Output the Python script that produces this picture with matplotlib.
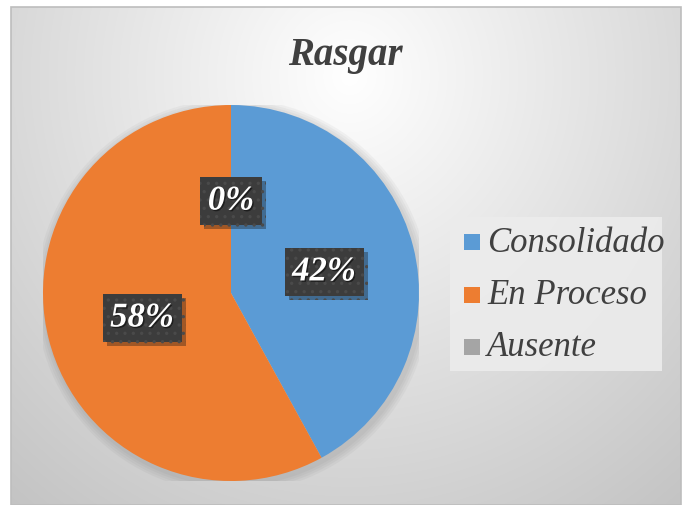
import numpy as np
import matplotlib
matplotlib.use("Agg")
import matplotlib.pyplot as plt
import matplotlib.patheffects as pe
from matplotlib.patches import Rectangle

SERIF = "Liberation Serif"
plt.rcParams["font.family"] = "serif"
plt.rcParams["font.serif"] = [SERIF]
plt.rcParams["hatch.linewidth"] = 1.2

title = "Rasgar"
categories = ["Consolidado", "En Proceso", "Ausente"]
values = [42, 58, 0]
colors = ["#5B9BD5", "#ED7D31", "#A5A5A5"]
label_pos = [(0.495, 0.112), (-0.473, -0.133), (0.0, 0.489)]

W, H = 683, 506
fig = plt.figure(figsize=(W / 100, H / 100), dpi=100)

# background: radial grey gradient inside the chart frame (pixel coords)
bg = fig.add_axes([0, 0, 1, 1])
bg.set_xlim(0, W)
bg.set_ylim(H, 0)
bg.axis("off")
yy, xx = np.mgrid[0:H, 0:W]
d = np.sqrt((xx - 345) ** 2 + ((yy - 70) / 1.05) ** 2)
shade = 255 - 62 * np.clip(d / 560, 0, 1.1)
img = np.dstack([shade, shade, shade]) / 255
bg.imshow(img, extent=[11, 681, H, 8], zorder=0, aspect="auto")
bg.add_patch(Rectangle((11, 8), 670, H - 8, fill=False, ec="#bdbdbd", lw=1.2,
                       zorder=1))

# pie
cx, cy, r = 231, 294, 188
ax = fig.add_axes([(cx - r) / W, (H - cy - r) / H, 2 * r / W, 2 * r / H])
ax.set_facecolor("none")
for i in range(4):
    ax.add_patch(plt.Circle((0.01, -0.015), 1.0 + 0.012 * (4 - i),
                            color="#555555", alpha=0.05, lw=0, zorder=0))
wedges, _ = ax.pie(values, colors=colors, startangle=90, counterclock=False,
                   radius=1.0, wedgeprops=dict(lw=0))
for w in wedges:
    w.set_zorder(2)
ax.set_xlim(-1, 1)
ax.set_ylim(-1, 1)
ax.set_aspect("equal")
ax.axis("off")

for v, (lx, ly) in zip(values, label_pos):
    t = ax.text(lx, ly, f"{v}%", ha="center", va="center", fontsize=25,
                family=SERIF, fontweight="bold", style="italic",
                color="white", zorder=5,
                bbox=dict(boxstyle="square,pad=0.22", fc="#3c3c3c",
                          ec="#4a4a4a", lw=0, hatch=".."))
    t.set_path_effects([pe.SimplePatchShadow(offset=(1, -1),
                                             shadow_rgbFace="black", alpha=0.5),
                        pe.Normal()])
    t.get_bbox_patch().set_path_effects([pe.SimplePatchShadow(offset=(3, -3),
                                         alpha=0.35), pe.Normal()])

# title
fig.text(345 / W, 1 - 55 / H, title, ha="center", va="center", fontsize=28,
         family=SERIF, fontweight="bold", style="italic", color="#404040")

# legend drawn by hand in pixel coordinates
bg.add_patch(Rectangle((450, 218), 212, 154, fc="#ececec", ec="none",
                       alpha=0.9, zorder=3))
for i, (name, c) in enumerate(zip(categories, colors)):
    y = 243 + i * 52.5
    bg.add_patch(Rectangle((464, y - 8), 16, 16, fc=c, ec="none", zorder=4))
    bg.text(487, y, name, ha="left", va="center", fontsize=25,
            family=SERIF, style="italic", color="#404040", zorder=4)

fig.savefig("out.png", dpi=100)
